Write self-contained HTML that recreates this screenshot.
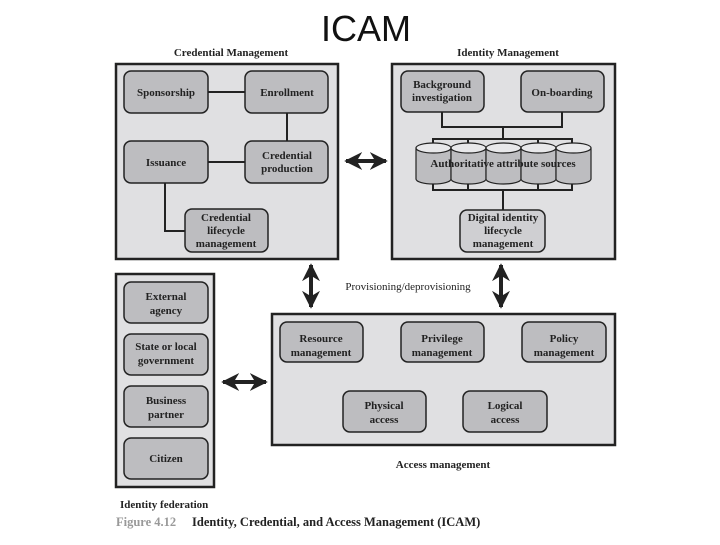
<!DOCTYPE html>
<html><head><style>
body{margin:0;background:#fff}
svg text{font-family:"Liberation Serif",serif;font-weight:bold;fill:#222}
</style></head><body>
<svg width="720" height="540" viewBox="0 0 720 540" xmlns="http://www.w3.org/2000/svg">
<defs>
<marker id="ah" viewBox="0 0 10 10" refX="9" refY="5" markerWidth="4.5" markerHeight="4.5" orient="auto-start-reverse"><path d="M0,0 L10,5 L0,10 L3,5 z" fill="#222"/></marker>
</defs>
<text x="366" y="41" font-size="36" text-anchor="middle" style="font-family:'Liberation Sans',sans-serif;font-weight:normal;fill:#111">ICAM</text>
<text x="231" y="56" font-size="11" text-anchor="middle">Credential Management</text>
<text x="508" y="56" font-size="11" text-anchor="middle">Identity Management</text>
<g fill="#e0e0e2" stroke="#222" stroke-width="2.5">
<rect x="116" y="64" width="222" height="195"/>
<rect x="392" y="64" width="223" height="195"/>
<rect x="116" y="274" width="98" height="213"/>
<rect x="272" y="314" width="343" height="131"/>
</g>
<g stroke="#222" stroke-width="2" fill="none">
<line x1="208" y1="92" x2="245" y2="92"/>
<line x1="287" y1="113" x2="287" y2="141"/>
<line x1="208" y1="162" x2="245" y2="162"/>
<polyline points="165,183 165,231 185,231"/>
<polyline points="442,112 442,127 562,127 562,112"/>
<line x1="503" y1="127" x2="503" y2="139"/>
<polyline points="433,148 433,139 572,139 572,148"/>
<line x1="468" y1="139" x2="468" y2="148"/><line x1="538" y1="139" x2="538" y2="148"/>
<polyline points="433,183 433,190 572,190 572,183"/>
<line x1="468" y1="183" x2="468" y2="190"/><line x1="538" y1="183" x2="538" y2="190"/>
<line x1="503" y1="190" x2="503" y2="210"/>
</g>
<g fill="#bdbdc0" stroke="#222" stroke-width="1.5">
<rect x="124" y="71" width="84" height="42" rx="7"/>
<rect x="245" y="71" width="83" height="42" rx="7"/>
<rect x="124" y="141" width="84" height="42" rx="7"/>
<rect x="245" y="141" width="83" height="42" rx="7"/>
<rect x="185" y="209" width="83" height="43" rx="7"/>
<rect x="401" y="71" width="83" height="41" rx="7"/>
<rect x="521" y="71" width="83" height="41" rx="7"/>
<rect x="460" y="210" width="85" height="42" rx="7" fill="#cfcfd2"/>
<rect x="124" y="282" width="84" height="41" rx="7"/>
<rect x="124" y="334" width="84" height="41" rx="7"/>
<rect x="124" y="386" width="84" height="41" rx="7"/>
<rect x="124" y="438" width="84" height="41" rx="7"/>
<rect x="280" y="322" width="83" height="40" rx="7"/>
<rect x="401" y="322" width="83" height="40" rx="7"/>
<rect x="522" y="322" width="84" height="40" rx="7"/>
<rect x="343" y="391" width="83" height="41" rx="7"/>
<rect x="463" y="391" width="84" height="41" rx="7"/>
</g>
<g fill="#bdbdc0" stroke="#222" stroke-width="1.2">
<g id="cy"><path d="M416,148 v31 a17.5,5 0 0 0 35,0 v-31"/><ellipse cx="433.5" cy="148" rx="17.5" ry="5" fill="#e8e8ea"/></g>
<use href="#cy" x="35"/><use href="#cy" x="70"/><use href="#cy" x="105"/><use href="#cy" x="140"/>
</g>
<g font-size="11" text-anchor="middle">
<text x="166" y="96">Sponsorship</text>
<text x="287" y="96">Enrollment</text>
<text x="166" y="166">Issuance</text>
<text x="287" y="159">Credential</text><text x="287" y="172">production</text>
<text x="226" y="221">Credential</text><text x="226" y="234">lifecycle</text><text x="226" y="247">management</text>
<text x="442" y="88">Background</text><text x="442" y="101">investigation</text>
<text x="562" y="96">On-boarding</text>
<text x="503" y="167">Authoritative attribute sources</text>
<text x="503" y="221">Digital identity</text><text x="503" y="234">lifecycle</text><text x="503" y="247">management</text>
<text x="166" y="300">External</text><text x="166" y="314">agency</text>
<text x="166" y="350">State or local</text><text x="166" y="364">government</text>
<text x="166" y="404">Business</text><text x="166" y="418">partner</text>
<text x="166" y="462">Citizen</text>
<text x="321" y="342">Resource</text><text x="321" y="356">management</text>
<text x="442" y="342">Privilege</text><text x="442" y="356">management</text>
<text x="564" y="342">Policy</text><text x="564" y="356">management</text>
<text x="384" y="409">Physical</text><text x="384" y="423">access</text>
<text x="505" y="409">Logical</text><text x="505" y="423">access</text>
<text x="443" y="468">Access management</text>
</g>
<text x="408" y="290" font-size="11" text-anchor="middle" style="font-weight:normal">Provisioning/deprovisioning</text>
<text x="120" y="508" font-size="11">Identity federation</text>
<text x="116" y="526" font-size="12.5" style="fill:#999">Figure 4.12</text>
<text x="192" y="526" font-size="12.5">Identity, Credential, and Access Management (ICAM)</text>
<g stroke="#222" stroke-width="4" marker-start="url(#ah)" marker-end="url(#ah)">
<line x1="346" y1="161" x2="386" y2="161"/>
<line x1="311" y1="265" x2="311" y2="307"/>
<line x1="501" y1="265" x2="501" y2="307"/>
<line x1="223" y1="382" x2="266" y2="382"/>
</g>
</svg>
</body></html>
